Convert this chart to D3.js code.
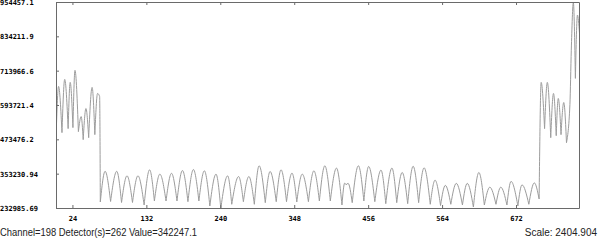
<!DOCTYPE html>
<html>
<head>
<meta charset="utf-8">
<script src="https://cdn.jsdelivr.net/npm/d3@7"></script>
<style>
    html, body { margin: 0; padding: 0; background: #fff; }
    svg { display: block; }
    .tick-label { font-family: "DejaVu Sans Mono", monospace; font-weight: bold; font-size: 7px; fill: #000; }
    .status { font-family: "Liberation Sans", Arial, sans-serif; font-size: 11px; fill: #222; }
</style>
</head>
<body>
<svg id="chart" width="600" height="242"></svg>
<script>
// peaks and troughs of the detector scan
const channels = [
    0, 3, 8, 12, 17, 20, 24, 27, 32, 36, 39, 43, 47, 52, 56, 60, 63, 64,
    71, 79, 88, 95, 103, 111, 119, 128, 136, 143, 151, 160, 168, 176, 184, 192,
    200, 208, 216, 224, 233, 240, 250, 256, 266, 273, 281, 289, 296, 305, 312, 321,
    328, 336, 344, 351, 359, 368, 376, 384, 392, 400, 409, 417, 421, 423, 426, 432,
    441, 449, 456, 465, 474, 481, 490, 497, 505, 513, 521, 529, 537, 546, 553, 561,
    568, 576, 584, 593, 600, 609, 617, 625, 633, 642, 649, 658, 664, 674, 680, 690,
    698, 705,
    708, 713, 717, 722, 726, 730, 733, 737, 741, 745, 750, 752, 755, 758, 761, 764
];
const values = [
    530000, 660600, 498700, 685200, 512800, 674700, 516300, 716900, 502200, 555000, 474100, 583200, 481100, 657100, 491700, 636000, 625000, 255900,
    363200, 257600, 363200, 254100, 347400, 254100, 347400, 245300, 368500, 259400, 353300, 259400, 356200, 259400, 366000, 256900,
    369500, 259400, 365000, 241800, 353300, 232985.69, 347400, 247800, 344900, 256900, 344900, 247800, 382600, 253400, 362500, 256900,
    368500, 256900, 356900, 255900, 353300, 256900, 365000, 259400, 382600, 259400, 374500, 245300, 322000, 316000, 321000, 253400,
    382600, 259400, 380100, 256900, 367400, 249900, 374500, 253400, 359000, 249900, 380800, 253400, 375500, 247800, 332200, 243500,
    313900, 247800, 321000, 245300, 321000, 238300, 359000, 245300, 307600, 247800, 307600, 245300, 328000, 241800, 315700, 247800,
    322700, 266400,
    674700, 512800, 674700, 481100, 636000, 488100, 618400, 491700, 604300, 463500, 597200, 787300, 954457.1, 688700, 910500, 847100
];

const xTickValues = [24, 132, 240, 348, 456, 564, 672];
const yTickValues = [232985.69, 353230.94, 473476.2, 593721.4, 713966.6, 834211.9, 954457.1];
const yTickLabels = ["232985.69", "353230.94", "473476.2", "593721.4", "713966.6", "834211.9", "954457.1"];
const channelRange = [0, 764];
const statusText = "Channel=198 Detector(s)=262 Value=342247.1";
const scaleText = "Scale: 2404.904";

const frameColor = "#6a6a6a";
const traceColor = "#9c9c9c";

function splitAtTroughs(points) {
    const segments = [];
    let current = [points[0]];
    for (let i = 1; i < points.length; i++) {
        current.push(points[i]);
        const isTrough = i < points.length - 1 &&
            points[i].value < points[i - 1].value &&
            points[i].value < points[i + 1].value;
        if (isTrough) {
            segments.push(current);
            current = [points[i]];
        }
    }
    segments.push(current);
    return segments;
}

function styleAxis(g) {
    g.select(".domain").attr("stroke", frameColor);
    g.selectAll(".tick line").attr("stroke", frameColor);
    g.selectAll(".tick text").remove();
}

function drawChart() {
    const svg = d3.select("#chart");

    const x = d3.scaleLinear().domain(channelRange).range([56, 579]);
    const y = d3.scaleLinear()
        .domain([yTickValues[0], yTickValues[yTickValues.length - 1]])
        .range([208, 2]);

    const points = channels.map((c, i) => ({ channel: c, value: values[i] }));

    const line = d3.line()
        .x(d => x(d.channel) + 0.5)
        .y(d => y(d.value) + 0.5)
        .curve(d3.curveMonotoneX);

    svg.append("g")
        .selectAll("path")
        .data(splitAtTroughs(points))
        .join("path")
        .attr("d", line)
        .attr("fill", "none")
        .attr("stroke", traceColor)
        .attr("stroke-width", 1);

    svg.append("g")
        .attr("transform", "translate(56,0)")
        .call(d3.axisLeft(y).tickValues(yTickValues).tickSize(-3).tickSizeOuter(0).tickFormat(""))
        .call(styleAxis);

    svg.append("g")
        .attr("transform", "translate(579,0)")
        .call(d3.axisRight(y).tickValues([]).tickSizeOuter(0))
        .call(styleAxis);

    svg.append("g")
        .attr("transform", "translate(0,208)")
        .call(d3.axisBottom(x).tickValues(xTickValues).tickSize(-3).tickSizeOuter(0).tickFormat(""))
        .call(styleAxis);

    svg.append("g")
        .attr("transform", "translate(0,2)")
        .call(d3.axisTop(x).tickValues(xTickValues).tickSize(-3).tickSizeOuter(0).tickFormat(""))
        .call(styleAxis);

    svg.append("g")
        .selectAll("text")
        .data(yTickValues)
        .join("text")
        .attr("class", "tick-label")
        .attr("x", 0)
        .attr("y", d => y(d) + 0.5)
        .attr("dy", "0.36em")
        .text((d, i) => yTickLabels[i]);

    svg.append("g")
        .selectAll("text")
        .data(xTickValues)
        .join("text")
        .attr("class", "tick-label")
        .attr("x", d => x(d) + 0.5)
        .attr("y", 221)
        .attr("text-anchor", "middle")
        .text(d => d);

    svg.append("text")
        .attr("class", "status")
        .attr("x", 0)
        .attr("y", 235.5)
        .attr("textLength", 197)
        .attr("lengthAdjust", "spacingAndGlyphs")
        .text(statusText);

    svg.append("text")
        .attr("class", "status")
        .attr("x", 597)
        .attr("y", 235.5)
        .attr("text-anchor", "end")
        .style("font-size", "10px")
        .text(scaleText);
}

drawChart();
</script>
</body>
</html>
